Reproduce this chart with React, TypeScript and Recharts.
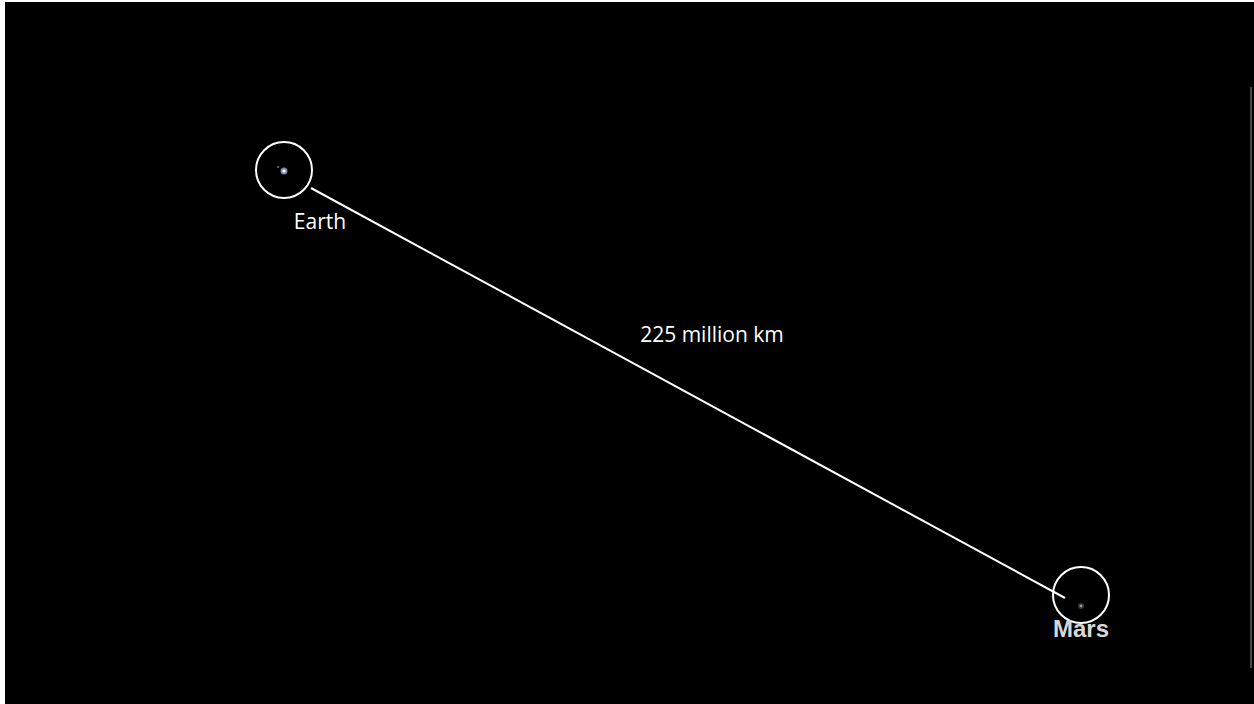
import React from "react";
import { ScatterChart, Scatter, XAxis, YAxis, ReferenceLine } from "recharts";

const W = 1254;
const H = 704;

// picture space: x to the right, y downwards (pixels of the original slide)
const bodyNames = ["Earth", "Mars"];
const ringX = [284, 1081];
const ringY = [170, 595];
const planetX = [284, 1081];
const planetY = [171, 606];
const labelX = [320, 1081];
const labelY = [229, 637];

// the faint companion speck next to Earth (the Moon)
const moonX = [278];
const moonY = [167];

const pathX = [311, 1065];
const pathY = [188, 598];

const distanceText = "225 million km";
const distanceX = [712];
const distanceY = [342];

// thin grey edge on the right of the slide
const edgeX = [1251, 1251];
const edgeY = [87, 668];

const rings = bodyNames.map((name, i) => ({ name, x: ringX[i], y: ringY[i] }));
const planets = bodyNames.map((name, i) => ({ name, x: planetX[i], y: planetY[i] }));
const labels = bodyNames.map((name, i) => ({ name, x: labelX[i], y: labelY[i] }));
const moons = moonX.map((x, i) => ({ x, y: moonY[i] }));
const distance = distanceX.map((x, i) => ({ name: distanceText, x, y: distanceY[i] }));

const Ring = (props: any) => (
  <circle cx={props.cx} cy={props.cy} r={28} fill="none" stroke="#ffffff" strokeWidth={2} />
);

const Planet = (props: any) => {
  const earth = props.payload.name === "Earth";
  return (
    <g>
      <circle cx={props.cx} cy={props.cy} r={earth ? 3.5 : 3} fill={earth ? "#7f8aa8" : "#3a3a3a"} />
      <circle cx={props.cx} cy={props.cy} r={earth ? 1.6 : 1.3} fill={earth ? "#ffffff" : "#9a9a9a"} />
    </g>
  );
};

const Moon = (props: any) => (
  <circle cx={props.cx} cy={props.cy} r={1} fill="#6f7890" />
);

const Label = (props: any) => {
  const mars = props.payload.name === "Mars";
  return (
    <text
      x={props.cx}
      y={props.cy}
      textAnchor="middle"
      fill={mars ? "#d8d8d8" : "#ffffff"}
      fontFamily={mars ? "'Liberation Sans', Arial, sans-serif" : "'Open Sans', sans-serif"}
      fontWeight={mars ? 700 : 400}
      fontSize={mars ? 24 : 21}
    >
      {props.payload.name}
    </text>
  );
};

const Distance = (props: any) => (
  <text
    x={props.cx}
    y={props.cy}
    textAnchor="middle"
    fill="#ffffff"
    fontFamily="'Open Sans', sans-serif"
    fontSize={21}
  >
    {props.payload.name}
  </text>
);

export default function App() {
  return (
    <div style={{ position: "fixed", left: 0, top: 0, width: W, height: H, background: "#ffffff" }}>
      <div style={{ position: "absolute", left: 5, top: 2, width: W - 5, height: H - 2, background: "#000000" }} />
      <div style={{ position: "absolute", left: 0, top: 0 }}>
        <ScatterChart width={W} height={H} margin={{ top: 0, right: 0, bottom: 0, left: 0 }}>
          <XAxis type="number" dataKey="x" domain={[0, W]} hide />
          <YAxis type="number" dataKey="y" domain={[0, H]} reversed hide />
          <ReferenceLine
            segment={[{ x: pathX[0], y: pathY[0] }, { x: pathX[1], y: pathY[1] }]}
            stroke="#ffffff"
            strokeWidth={2}
          />
          <ReferenceLine
            segment={[{ x: edgeX[0], y: edgeY[0] }, { x: edgeX[1], y: edgeY[1] }]}
            stroke="#8c8c8c"
            strokeWidth={1}
          />
          <Scatter data={rings} shape={Ring} isAnimationActive={false} />
          <Scatter data={planets} shape={Planet} isAnimationActive={false} />
          <Scatter data={moons} shape={Moon} isAnimationActive={false} />
          <Scatter data={labels} shape={Label} isAnimationActive={false} />
          <Scatter data={distance} shape={Distance} isAnimationActive={false} />
        </ScatterChart>
      </div>
    </div>
  );
}
